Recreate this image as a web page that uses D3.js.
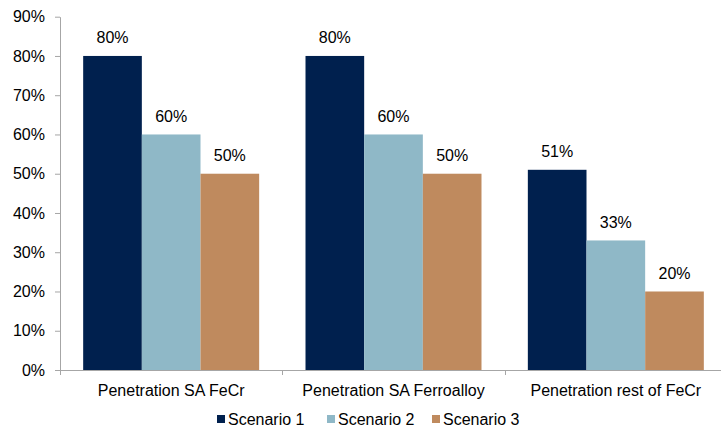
<!DOCTYPE html>
<html>
<head>
<meta charset="utf-8">
<script src="https://cdn.jsdelivr.net/npm/d3@7/dist/d3.min.js"></script>
<style>
  html, body { margin: 0; padding: 0; background: #fff; overflow: hidden; }
  svg text { font-family: "Liberation Sans", Arial, sans-serif; fill: #000; }
</style>
</head>
<body>
<svg id="chart" width="721" height="430"></svg>
<script>
// Penetration scenarios by segment
const categories = ["Penetration SA FeCr", "Penetration SA Ferroalloy", "Penetration rest of FeCr"];
const seriesNames = ["Scenario 1", "Scenario 2", "Scenario 3"];
const scenario1 = [0.80, 0.80, 0.51];
const scenario2 = [0.60, 0.60, 0.33];
const scenario3 = [0.50, 0.50, 0.20];
const yTicks = [0, 0.1, 0.2, 0.3, 0.4, 0.5, 0.6, 0.7, 0.8, 0.9];
const colors = ["#00204e", "#8fb8c7", "#bf8a5e"];

const seriesValues = [scenario1, scenario2, scenario3];

const svg = d3.select("#chart");
const plotLeft = 60, plotRight = 727, plotTop = 16.7, plotBottom = 370;

const y = d3.scaleLinear().domain([0, 0.9]).range([plotBottom, plotTop]);
const x0 = d3.scaleBand().domain(categories).range([plotLeft, plotRight]).padding(0);
const x1 = d3.scaleBand().domain(seriesNames).range([0, x0.bandwidth()])
  .paddingInner(0).paddingOuter(0.395);
const color = d3.scaleOrdinal().domain(seriesNames).range(colors);

const fmt = d3.format(".0%");
const axisColor = "#a6a6a6";
const fontSize = "16px";

// Bars
const groups = svg.append("g").selectAll("g")
  .data(categories)
  .join("g")
  .attr("transform", d => `translate(${x0(d)},0)`);

const rows = (c, i) => seriesNames.map((s, j) => ({ s, v: seriesValues[j][i] }));

groups.selectAll("rect")
  .data(rows)
  .join("rect")
  .attr("x", d => x1(d.s))
  .attr("y", d => y(d.v))
  .attr("width", x1.bandwidth())
  .attr("height", d => y(0) - y(d.v))
  .attr("fill", d => color(d.s));

groups.selectAll("text.val")
  .data(rows)
  .join("text")
  .attr("class", "val")
  .attr("x", d => x1(d.s) + x1.bandwidth() / 2)
  .attr("y", d => y(d.v) - 12.5)
  .attr("text-anchor", "middle")
  .style("font-size", fontSize)
  .text(d => fmt(d.v));

// Y axis
const yAxis = svg.append("g")
  .attr("transform", `translate(${plotLeft},0)`)
  .call(d3.axisLeft(y).tickValues(yTicks).tickFormat(fmt).tickSize(5).tickSizeOuter(0));
yAxis.select(".domain").attr("stroke", axisColor);
yAxis.selectAll(".tick line").attr("stroke", axisColor);
yAxis.selectAll(".tick text")
  .attr("x", -15)
  .style("font-size", fontSize)
  .style("font-family", "'Liberation Sans', Arial, sans-serif")
  .attr("fill", "#000");

// X axis
const xAxis = svg.append("g")
  .attr("transform", `translate(0,${y(0)})`)
  .call(d3.axisBottom(x0).tickSize(0).tickSizeOuter(0));
xAxis.select(".domain").attr("stroke", axisColor);
xAxis.selectAll(".tick text")
  .attr("dy", 0)
  .attr("y", 26)
  .style("font-size", fontSize)
  .style("font-family", "'Liberation Sans', Arial, sans-serif")
  .attr("fill", "#000");

// Category boundary ticks
const boundaries = categories.map(c => x0(c));
svg.append("g").selectAll("line")
  .data(boundaries)
  .join("line")
  .attr("x1", d => Math.round(d) + 0.5)
  .attr("x2", d => Math.round(d) + 0.5)
  .attr("y1", y(0))
  .attr("y2", y(0) + 5)
  .attr("stroke", axisColor);

// Legend
const legendX = [217, 327, 432];
const legend = svg.append("g").selectAll("g")
  .data(seriesNames)
  .join("g")
  .attr("transform", (d, i) => `translate(${legendX[i]},419)`);
legend.append("rect")
  .attr("x", 0).attr("y", -4)
  .attr("width", 8).attr("height", 8)
  .attr("fill", d => color(d));
legend.append("text")
  .attr("x", 11).attr("y", 6)
  .style("font-size", fontSize)
  .text(d => d);
</script>
</body>
</html>
